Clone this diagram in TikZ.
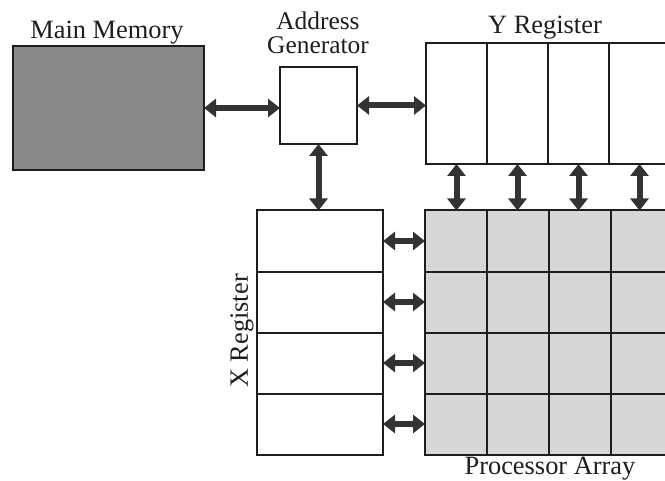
\documentclass[tikz,border=0pt]{standalone}
\usepackage{fontspec}
\setmainfont{Liberation Serif}
\usetikzlibrary{arrows.meta}
\definecolor{memgray}{HTML}{8A8A8A}
\definecolor{pegray}{HTML}{D7D7D7}
\definecolor{ink}{HTML}{1E1E1E}
\definecolor{busgray}{HTML}{333333}
\begin{document}
\begin{tikzpicture}[x=1bp,y=-1bp,
  box/.style={draw=ink, line width=2bp, inner sep=0pt, outer sep=0pt},
  cell/.style={inner sep=0pt, outer sep=0pt},
  divider/.style={draw=ink, line width=2bp},
  lab/.style={inner sep=0pt, font=\fontsize{26.5}{25}\selectfont, text=ink},
  bus/.style={line width=6bp, draw=busgray,
    {Triangle[length=12bp,width=18bp]}-{Triangle[length=12bp,width=18bp]}}]
\useasboundingbox (0,0) rectangle (665,481);
\clip (0,0) rectangle (665,481);

% main memory and address generator
\node[box, fill=memgray, minimum width=191bp, minimum height=124bp] (mm) at (108.5,108) {};
\node[box, fill=white, minimum width=77bp, minimum height=77bp] (ag) at (318.5,105.5) {};

% Y register: four columns
\foreach \i in {1,...,4}
  \node[cell, fill=white, minimum width=61bp, minimum height=121bp] (y\i) at ({426+61*(\i-0.5)},103.5) {};
\foreach \i in {1,...,3}
  \draw[divider] (y\i.north east) -- (y\i.south east);
\draw[box] (y1.north west) rectangle (y4.south east);

% X register: four rows
\foreach \r in {1,...,4}
  \node[cell, fill=white, minimum width=126bp, minimum height=61bp] (x\r) at (320,{210.5+61*(\r-0.5)}) {};
\foreach \r in {1,...,3}
  \draw[divider] (x\r.south west) -- (x\r.south east);
\draw[box] (x1.north west) rectangle (x4.south east);

% processor array: 4 x 4 grid
\foreach \r in {1,...,4}
  \foreach \c in {1,...,4}
    \node[cell, fill=pegray, minimum width=62bp, minimum height=61bp] (p\r\c) at ({425+62*(\c-0.5)},{210.5+61*(\r-0.5)}) {};
\foreach \k in {1,...,3} {
  \draw[divider] (p1\k.north east) -- (p4\k.south east);
  \draw[divider] (p\k1.south west) -- (p\k4.south east);
}
\draw[box] (p11.north west) rectangle (p44.south east);

% buses
\draw[bus] (mm.east) -- (mm.east -| ag.west);
\draw[bus] (ag.east) -- (ag.east -| y1.west);
\draw[bus] (ag.south) -- (ag.south |- x1.north);
\foreach \i in {1,...,4}
  \draw[bus] (y\i.south) -- (y\i.south |- p1\i.north);
\foreach \r in {1,...,4}
  \draw[bus] (x\r.east) -- (x\r.east -| p\r1.west);

% labels
\node[lab] (mmlab) at (107,33) {Main Memory};
\node[lab, align=center, font=\fontsize{25.5}{24}\selectfont] (aglab) at (318,33) {Address\\Generator};
\node[lab] (ylab) at (545,28) {Y Register};
\node[lab, rotate=90] (xlab) at (242,331) {X Register};
\node[lab] (palab) at (550,469) {Processor Array};
\end{tikzpicture}
\end{document}
